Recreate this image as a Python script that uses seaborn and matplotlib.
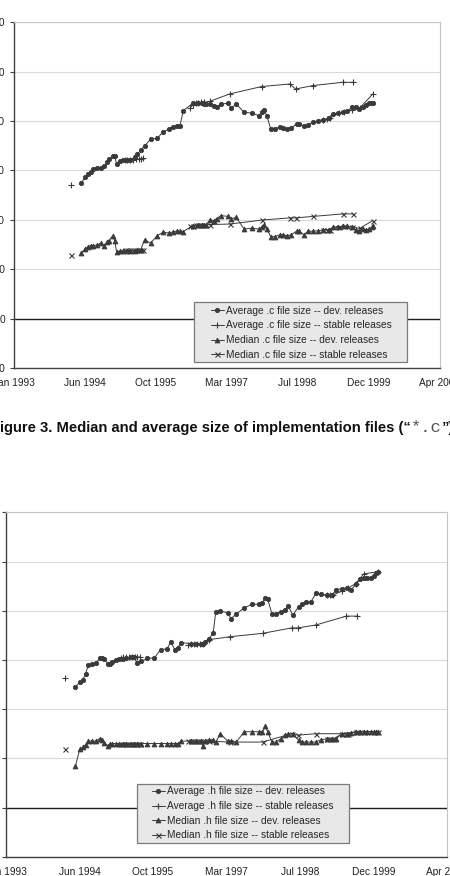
import numpy as np
import pandas as pd
import seaborn as sns
import matplotlib.pyplot as plt
import matplotlib.dates as mdates
from matplotlib.lines import Line2D
from matplotlib.patches import Rectangle

# development releases (1.1.x, 1.3.x, 2.1.x, 2.3.x)
dev_dates = ["1994-05-19", "1994-06-17", "1994-07-07", "1994-07-27", "1994-08-14", "1994-09-08",
             "1994-10-03", "1994-10-31", "1994-11-17", "1994-12-02", "1994-12-28",
             "1995-01-11", "1995-01-24", "1995-02-16", "1995-03-13", "1995-04-09", "1995-05-01",
             "1995-06-02", "1995-06-20", "1995-07-13", "1995-08-11", "1995-09-21", "1995-11-07",
             "1995-12-19",
             "1996-02-01", "1996-02-27", "1996-03-24", "1996-04-15", "1996-05-08", "1996-07-14",
             "1996-08-18", "1996-09-17", "1996-10-02", "1996-10-17", "1996-11-11", "1996-12-11",
             "1996-12-29",
             "1997-01-30", "1997-03-19", "1997-04-12", "1997-05-17", "1997-07-11", "1997-09-04",
             "1997-10-22", "1997-11-12", "1997-11-30", "1997-12-18",
             "1998-01-15", "1998-02-11", "1998-03-18", "1998-04-12", "1998-05-07", "1998-06-06",
             "1998-07-16", "1998-08-05", "1998-09-05", "1998-10-05", "1998-11-11", "1998-12-16",
             "1999-01-22", "1999-03-03", "1999-03-28", "1999-05-04", "1999-06-07", "1999-07-09",
             "1999-08-13", "1999-09-06", "1999-10-01", "1999-10-27", "1999-11-19", "1999-12-12",
             "1999-12-28", "2000-01-05"]

c_avg_dev = [549, 572, 586, 595, 605, 608, 610, 617, 633, 645, 657,
             657, 626, 637, 641, 643, 644, 653, 665, 683, 700, 727, 730, 757,
             768, 777, 781, 780, 842, 872, 873, 872, 870, 869, 869, 862, 858,
             869, 872, 853, 869, 836, 832, 822, 836, 845, 822,
             768, 769, 775, 771, 768, 771, 788, 788, 779, 786, 795, 802,
             806, 813, 829, 833, 836, 842, 856, 856, 849, 856, 867, 872, 872,
             872]
c_med_dev = [266, 282, 292, 296, 296, 298, 305, 296, 310, 316, 336,
             316, 271, 273, 275, 275, 275, 275, 277, 279, 320, 305, 336, 350,
             346, 352, 354, 354, 352, 377, 378, 379, 380, 381, 399, 397, 405,
             417, 414, 404, 410, 363, 366, 363, 370, 381, 363,
             332, 332, 339, 339, 336, 339, 354, 354, 340, 354, 354, 356,
             359, 360, 370, 373, 374, 374, 370, 360, 356, 363, 360, 363, 370,
             374]
h_avg_dev = [245, 255, 259, 272, 289, 291, 293, 303, 304, 301, 291,
             291, 296, 299, 301, 301, 304, 305, 306, 294, 297, 303, 304, 321,
             322, 337, 321, 325, 335, 333, 333, 333, 333, 337, 343, 354, 398,
             399, 396, 384, 393, 406, 413, 413, 416, 426, 423,
             394, 394, 398, 402, 409, 391, 408, 413, 417, 417, 435, 433,
             432, 432, 442, 445, 446, 443, 454, 465, 467, 467, 467, 470, 477,
             479]
h_med_dev = [84, 119, 122, 128, 135, 135, 135, 140, 138, 131, 125,
             130, 130, 130, 130, 130, 130, 130, 130, 130, 130, 130, 130, 130,
             130, 130, 130, 130, 135, 135, 135, 135, 125, 135, 137, 138, 133,
             150, 135, 135, 133, 154, 154, 154, 154, 165, 154,
             133, 133, 140, 147, 150, 149, 137, 133, 133, 133, 133, 138,
             139, 139, 139, 150, 150, 152, 154, 154, 154, 154, 154, 154, 154,
             154]

# stable releases (1.0, 1.2.x, 2.0.x, 2.2.x)
stable_dates = ["1994-03-12",
                "1995-03-22", "1995-04-09", "1995-04-29", "1995-05-19", "1995-06-08", "1995-06-28",
                "1995-07-15", "1995-07-30",
                "1996-06-26", "1996-07-14", "1996-08-03", "1996-08-23", "1996-09-12", "1996-10-02",
                "1996-11-11", "1997-04-02", "1997-11-13", "1998-05-29", "1998-07-10", "1998-11-11",
                "1999-06-06", "1999-08-18",
                "1999-01-22", "1999-02-14", "1999-03-06", "1999-05-10", "1999-06-19", "1999-08-08",
                "1999-10-03", "2000-01-05"]
stable_branch = ["1.0"] + ["1.2"] * 8 + ["2.0"] * 14 + ["2.2"] * 8

c_avg_stable = [542,
                643, 643, 644, 644, 645, 646, 648, 650,
                853, 866, 872, 875, 876, 876, 880, 910, 940, 950, 930, 944, 957, 957,
                806, 808, 813, 833, 838, 845, 852, 910]
c_med_stable = [258,
                276, 276, 276, 277, 277, 277, 278, 278,
                374, 377, 378, 379, 380, 380, 381, 383, 399, 408, 408, 414, 424, 424,
                359, 360, 360, 372, 374, 372, 365, 397]
h_avg_stable = [264,
                304, 305, 305, 305, 305, 305, 306, 306,
                331, 333, 333, 333, 333, 333, 341, 347, 354, 365, 365, 371, 389, 389,
                431, 432, 432, 440, 446, 455, 475, 479]
h_med_stable = [119,
                130, 130, 130, 130, 130, 130, 130, 130,
                135, 135, 135, 135, 135, 135, 135, 133, 133, 150, 147, 150, 150, 154,
                139, 139, 139, 150, 150, 154, 154, 154]

c_labels = ["Average .c file size -- dev. releases", "Average .c file size -- stable releases",
            "Median .c file size -- dev. releases", "Median .c file size -- stable releases"]
h_labels = ["Average .h file size -- dev. releases", "Average .h file size -- stable releases",
            "Median .h file size -- dev. releases", "Median .h file size -- stable releases"]

x_ticks = pd.date_range("1993-01-31", periods=7, freq="500D")

sns.set_style("white")
plt.rcParams["font.family"] = ["Liberation Sans", "DejaVu Sans"]

dev = pd.DataFrame({"date": pd.to_datetime(dev_dates), "c_avg": c_avg_dev, "c_med": c_med_dev,
                    "h_avg": h_avg_dev, "h_med": h_med_dev})
stable = pd.DataFrame({"date": pd.to_datetime(stable_dates), "branch": stable_branch,
                       "c_avg": c_avg_stable, "c_med": c_med_stable,
                       "h_avg": h_avg_stable, "h_med": h_med_stable})

W, H = 450, 876
ink = "#3a3a3a"
fs = 7.3

fig = plt.figure(figsize=(W / 100, H / 100), dpi=100)


def px_axes(l, t, r, b):
    return fig.add_axes([l / W, 1 - b / H, (r - l) / W, (b - t) / H])


styles = [("o", 3.1, 0.6), ("+", 4.8, 0.8), ("^", 3.5, 0.6), ("x", 3.6, 0.8)]


def panel(ax, avg, med, ymin, ymax, step, labels, box, hx, hy):
    cols = [(dev, avg, None), (stable, avg, "branch"), (dev, med, None), (stable, med, "branch")]
    for (df, col, units), (m, ms, mew) in zip(cols, styles):
        sns.lineplot(data=df, x="date", y=col, units=units, estimator=None, sort=False,
                     color=ink, lw=0.7, marker=m, markersize=ms, markeredgewidth=mew,
                     markeredgecolor=ink, markerfacecolor=ink, ax=ax, zorder=3)
    ax.set_xlim(x_ticks[0], x_ticks[-1])
    ax.set_ylim(ymin, ymax)
    ax.set_xticks(x_ticks)
    ax.xaxis.set_major_formatter(mdates.DateFormatter("%b %Y"))
    ax.set_yticks(np.arange(ymin, ymax + 1, step))
    ax.set_xlabel("")
    ax.set_ylabel("")
    ax.grid(axis="y", color="#dadada", lw=0.8)
    ax.axhline(0, color="#1e1e1e", lw=1.0, zorder=2)
    for s in ["top", "right"]:
        ax.spines[s].set_color("#c4c4c4")
    for s in ["left", "bottom"]:
        ax.spines[s].set_color("#404040")
        ax.spines[s].set_linewidth(1.0)
    ax.tick_params(axis="both", direction="out", length=3, width=0.8, color="#404040",
                   labelsize=fs, labelcolor="#222222")
    ax.tick_params(axis="x", pad=4.5)
    ax.tick_params(axis="y", pad=3.6, left=True)

    l, t, r, b = box
    fig.add_artist(Rectangle((l / W, 1 - b / H), (r - l) / W, (b - t) / H,
                             transform=fig.transFigure, facecolor="#e8e8e8",
                             edgecolor="#7a7a7a", lw=0.9, zorder=4))
    handles = [Line2D([], [], color=ink, lw=0.7, marker=m, markersize=ms, markeredgewidth=mew,
                      markeredgecolor=ink, markerfacecolor=ink) for m, ms, mew in styles]
    fig.legend(handles, labels, loc="upper left", bbox_to_anchor=(hx / W, 1 - hy / H),
               bbox_transform=fig.transFigure, frameon=False, borderpad=0, borderaxespad=0,
               handlelength=1.3, handletextpad=0.25, labelspacing=0.46, fontsize=fs)


ax1 = px_axes(14, 22.3, 439.5, 368)
panel(ax1, "c_avg", "c_med", -200, 1200, 200, c_labels, (194, 302.3, 406.7, 361.7), 210.7, 305.8)

ax2 = px_axes(6, 512.3, 446.7, 856.7)
panel(ax2, "h_avg", "h_med", -100, 600, 100, h_labels, (136.7, 784, 349.3, 843.3), 151.7, 786.4)

# caption, with the file pattern in a typewriter face
r = fig.canvas.get_renderer()
yb = 1 - 431.7 / H
cap_fs = 10.6
t1 = fig.text(-9.0 / W, yb, "Figure 3. Median and average size of implementation files (\u201c",
              fontsize=cap_fs, fontweight="bold", va="baseline", color="#111111")
x1 = t1.get_window_extent(r).x1
t2 = fig.text(x1 / W, yb, "*.c", fontsize=12.3, family="Liberation Mono", va="baseline",
              color="#555555")
x2 = t2.get_window_extent(r).x1
fig.text(x2 / W, yb, "\u201d)", fontsize=cap_fs, fontweight="bold", va="baseline", color="#111111")

fig.savefig("out.png", dpi=100)
